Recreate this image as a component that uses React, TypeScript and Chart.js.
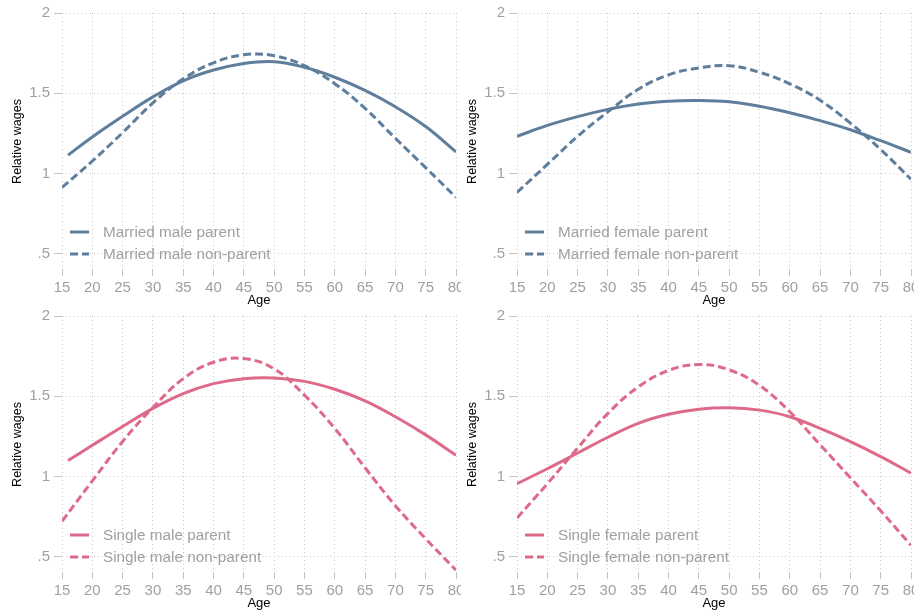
import React, { useEffect, useRef } from "react";
import { Chart, registerables } from "chart.js";

Chart.register(...registerables);

// Ages on the horizontal axis
const ages = [15, 20, 25, 30, 35, 40, 45, 50, 55, 60, 65, 70, 75, 80];
const agesFrom16 = [16, 20, 25, 30, 35, 40, 45, 50, 55, 60, 65, 70, 75, 80];
const xTicks = [15, 20, 25, 30, 35, 40, 45, 50, 55, 60, 65, 70, 75, 80];
const yTicks = [0.5, 1, 1.5, 2];
const yTickLabels = [".5", "1", "1.5", "2"];

// Relative wage profiles
const marriedMaleParent = [1.115, 1.228, 1.357, 1.478, 1.578, 1.645, 1.686, 1.697, 1.662, 1.6, 1.518, 1.416, 1.293, 1.135];
const marriedMaleNonParent = [0.914, 1.078, 1.255, 1.44, 1.59, 1.69, 1.74, 1.734, 1.672, 1.56, 1.406, 1.22, 1.037, 0.852];
const marriedFemaleParent = [1.232, 1.3, 1.355, 1.4, 1.434, 1.451, 1.455, 1.447, 1.42, 1.379, 1.33, 1.273, 1.205, 1.133];
const marriedFemaleNonParent = [0.883, 1.057, 1.232, 1.385, 1.525, 1.615, 1.658, 1.672, 1.631, 1.559, 1.457, 1.314, 1.15, 0.965];
const singleMaleParent = [1.1, 1.195, 1.312, 1.425, 1.517, 1.579, 1.61, 1.614, 1.593, 1.544, 1.472, 1.373, 1.26, 1.133];
const singleMaleNonParent = [0.722, 0.973, 1.219, 1.43, 1.61, 1.712, 1.735, 1.671, 1.507, 1.3, 1.055, 0.819, 0.613, 0.418];
const singleFemaleParent = [0.956, 1.049, 1.147, 1.245, 1.332, 1.388, 1.42, 1.429, 1.414, 1.373, 1.3, 1.218, 1.125, 1.022];
const singleFemaleNonParent = [0.743, 0.955, 1.178, 1.394, 1.558, 1.661, 1.698, 1.665, 1.568, 1.404, 1.199, 0.993, 0.787, 0.572];

const BLUE = "#5f7e9c";
const PINK = "#de6a8a";
const FONT = "'Liberation Sans', Arial, sans-serif";
const GREY_TEXT = "#a0a0a0";

type Series = { label: string; x: number[]; y: number[]; dashed: boolean };
type PanelSpec = { color: string; series: Series[] };

const panels: PanelSpec[] = [
  {
    color: BLUE,
    series: [
      { label: "Married male parent", x: agesFrom16, y: marriedMaleParent, dashed: false },
      { label: "Married male non-parent", x: ages, y: marriedMaleNonParent, dashed: true },
    ],
  },
  {
    color: BLUE,
    series: [
      { label: "Married female parent", x: ages, y: marriedFemaleParent, dashed: false },
      { label: "Married female non-parent", x: ages, y: marriedFemaleNonParent, dashed: true },
    ],
  },
  {
    color: PINK,
    series: [
      { label: "Single male parent", x: agesFrom16, y: singleMaleParent, dashed: false },
      { label: "Single male non-parent", x: ages, y: singleMaleNonParent, dashed: true },
    ],
  },
  {
    color: PINK,
    series: [
      { label: "Single female parent", x: ages, y: singleFemaleParent, dashed: false },
      { label: "Single female non-parent", x: ages, y: singleFemaleNonParent, dashed: true },
    ],
  },
];

const CANVAS_W = 480;
const CANVAS_H = 310;

// Legend drawn inside the plot region, lower left
const insideLegend = {
  id: "insideLegend",
  afterDatasetsDraw(chart: any) {
    const ctx = chart.ctx;
    const rows = [232, 254];
    chart.data.datasets.forEach((ds: any, i: number) => {
      const y = rows[i];
      ctx.save();
      ctx.strokeStyle = ds.borderColor;
      ctx.lineWidth = 3;
      ctx.setLineDash(ds.borderDash || []);
      ctx.beginPath();
      ctx.moveTo(70, y);
      ctx.lineTo(89, y);
      ctx.stroke();
      ctx.setLineDash([]);
      ctx.fillStyle = GREY_TEXT;
      ctx.font = `15.3px ${FONT}`;
      ctx.textAlign = "left";
      ctx.textBaseline = "middle";
      ctx.fillText(ds.label, 103, y + 1);
      ctx.restore();
    });
  },
};

function Panel({ spec }: { spec: PanelSpec }) {
  const ref = useRef<HTMLCanvasElement | null>(null);
  useEffect(() => {
    if (!ref.current) return;
    const chart = new Chart(ref.current, {
      type: "line",
      data: {
        datasets: spec.series.map((s) => ({
          label: s.label,
          data: s.x.map((a, i) => ({ x: a, y: s.y[i] })),
          borderColor: spec.color,
          backgroundColor: spec.color,
          borderWidth: 3,
          borderDash: s.dashed ? [8, 4] : [],
          pointRadius: 0,
          tension: 0.4,
          fill: false,
        })),
      },
      options: {
        animation: false,
        responsive: false,
        devicePixelRatio: 1,
        layout: { padding: { top: 10, left: 0, right: 24, bottom: 0 } },
        plugins: { legend: { display: false }, tooltip: { enabled: false } },
        scales: {
          x: {
            type: "linear",
            min: 15,
            max: 80,
            afterFit: (s: any) => {
              s.height = 40;
            },
            afterBuildTicks: (s: any) => {
              s.ticks = xTicks.map((v) => ({ value: v }));
            },
            border: { display: false, dash: [1, 3] },
            grid: {
              color: "#c8c8c8",
              lineWidth: 1,
              tickLength: 6,
              tickColor: "#c4c4c4",
              tickBorderDash: [],
            },
            ticks: {
              color: GREY_TEXT,
              font: { family: FONT, size: 15 },
              padding: 3,
              maxRotation: 0,
              autoSkip: false,
              callback: (v: any) => String(v),
            },
            title: {
              display: true,
              text: "Age",
              color: "#000",
              font: { family: FONT, size: 13, lineHeight: 1 },
              padding: { top: 0, bottom: 3 },
            },
          },
          y: {
            type: "linear",
            min: 0.4,
            max: 2,
            afterFit: (s: any) => {
              s.width = 62;
            },
            afterBuildTicks: (s: any) => {
              s.ticks = yTicks.map((v) => ({ value: v }));
            },
            border: { display: false, dash: [1, 3] },
            grid: {
              color: "#c8c8c8",
              lineWidth: 1,
              tickLength: 8,
              tickColor: "#c4c4c4",
              tickBorderDash: [],
            },
            ticks: {
              color: GREY_TEXT,
              font: { family: FONT, size: 15 },
              padding: 4,
              autoSkip: false,
              callback: (v: any) => {
                const i = yTicks.indexOf(Number(v));
                return i >= 0 ? yTickLabels[i] : "";
              },
            },
            title: {
              display: true,
              text: "Relative wages",
              color: "#000",
              font: { family: FONT, size: 12.5, lineHeight: 1 },
              padding: { top: 11, bottom: 0 },
            },
          },
        },
      },
      plugins: [insideLegend],
    });
    return () => chart.destroy();
  }, [spec]);
  return <canvas ref={ref} width={CANVAS_W} height={CANVAS_H} style={{ display: "block", width: CANVAS_W, height: CANVAS_H }} />;
}

// Panel frames: left column clipped at 461, right column offset 455, rows offset 303
const frames = [
  { left: 0, top: 0, width: 461 },
  { left: 455, top: 0, width: 459 },
  { left: 0, top: 303, width: 461 },
  { left: 455, top: 303, width: 459 },
];

export default function App() {
  return (
    <div style={{ position: "absolute", left: 0, top: 0, width: 914, height: 615, background: "#fff", overflow: "hidden" }}>
      {panels.map((p, i) => (
        <div
          key={i}
          style={{
            position: "absolute",
            left: frames[i].left,
            top: frames[i].top,
            width: frames[i].width,
            height: CANVAS_H,
            overflow: "hidden",
          }}
        >
          <Panel spec={p} />
        </div>
      ))}
    </div>
  );
}
